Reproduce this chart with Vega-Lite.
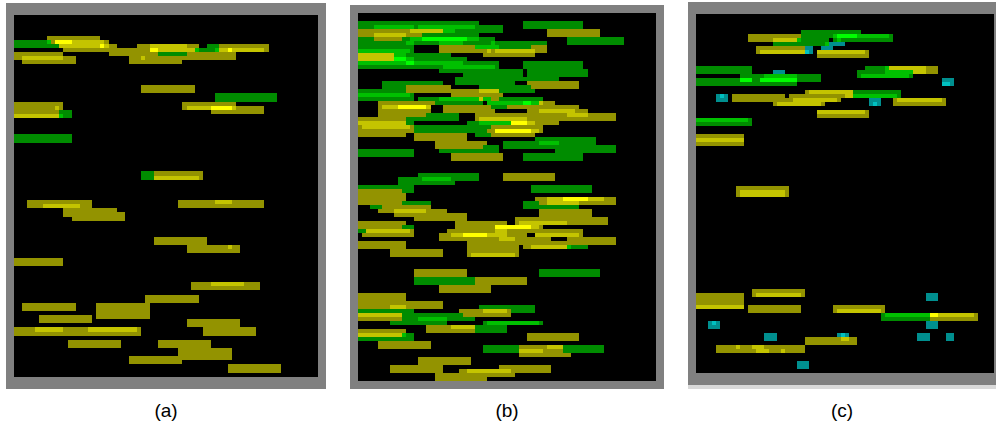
{
"$schema":"https://vega.github.io/schema/vega-lite/v6.json",
"padding":{"left":6,"top":2,"right":0,"bottom":0},
"autosize":{"type":"pad"},
"background":"white",
"spacing":24,
"config":{"view":{"stroke":null},"title":{"font":"Liberation Sans","fontSize":19,"fontWeight":"normal","color":"black"}},
"datasets":{
"a":[
{"x":6,"x2":326,"y":3,"y2":389,"k":"f"},
{"x":14,"x2":318,"y":15,"y2":377,"k":"k"},
{"x":47,"x2":100,"y":36,"y2":40,"k":"o"},
{"x":14,"x2":47,"y":40,"y2":44,"k":"g"},
{"x":47,"x2":51,"y":40,"y2":44,"k":"G"},
{"x":51,"x2":55,"y":40,"y2":44,"k":"o"},
{"x":55,"x2":72,"y":40,"y2":44,"k":"Y"},
{"x":72,"x2":104,"y":40,"y2":44,"k":"y"},
{"x":104,"x2":109,"y":40,"y2":44,"k":"o"},
{"x":14,"x2":59,"y":44,"y2":48,"k":"g"},
{"x":59,"x2":100,"y":44,"y2":48,"k":"y"},
{"x":100,"x2":104,"y":44,"y2":48,"k":"Y"},
{"x":104,"x2":109,"y":44,"y2":48,"k":"y"},
{"x":109,"x2":117,"y":44,"y2":48,"k":"o"},
{"x":137,"x2":199,"y":44,"y2":48,"k":"o"},
{"x":150,"x2":187,"y":44,"y2":48,"k":"y"},
{"x":207,"x2":219,"y":44,"y2":52,"k":"g"},
{"x":219,"x2":269,"y":44,"y2":52,"k":"o"},
{"x":63,"x2":150,"y":48,"y2":52,"k":"o"},
{"x":150,"x2":158,"y":48,"y2":52,"k":"Y"},
{"x":158,"x2":195,"y":48,"y2":52,"k":"y"},
{"x":195,"x2":199,"y":48,"y2":52,"k":"G"},
{"x":199,"x2":215,"y":48,"y2":52,"k":"g"},
{"x":215,"x2":219,"y":48,"y2":52,"k":"G"},
{"x":219,"x2":228,"y":48,"y2":52,"k":"y"},
{"x":228,"x2":232,"y":48,"y2":52,"k":"Y"},
{"x":232,"x2":264,"y":48,"y2":52,"k":"y"},
{"x":14,"x2":63,"y":52,"y2":56,"k":"o"},
{"x":109,"x2":158,"y":52,"y2":56,"k":"o"},
{"x":158,"x2":187,"y":52,"y2":56,"k":"g"},
{"x":187,"x2":236,"y":52,"y2":56,"k":"o"},
{"x":14,"x2":22,"y":56,"y2":60,"k":"o"},
{"x":22,"x2":63,"y":56,"y2":60,"k":"y"},
{"x":63,"x2":76,"y":56,"y2":60,"k":"o"},
{"x":129,"x2":141,"y":56,"y2":60,"k":"o"},
{"x":141,"x2":145,"y":56,"y2":60,"k":"y"},
{"x":145,"x2":236,"y":56,"y2":60,"k":"o"},
{"x":22,"x2":76,"y":60,"y2":64,"k":"o"},
{"x":129,"x2":182,"y":60,"y2":64,"k":"o"},
{"x":141,"x2":195,"y":85,"y2":93,"k":"o"},
{"x":215,"x2":277,"y":93,"y2":102,"k":"g"},
{"x":14,"x2":63,"y":102,"y2":110,"k":"o"},
{"x":55,"x2":59,"y":106,"y2":110,"k":"y"},
{"x":182,"x2":236,"y":102,"y2":110,"k":"o"},
{"x":211,"x2":264,"y":106,"y2":114,"k":"o"},
{"x":187,"x2":211,"y":106,"y2":110,"k":"y"},
{"x":211,"x2":232,"y":106,"y2":110,"k":"Y"},
{"x":232,"x2":236,"y":106,"y2":110,"k":"y"},
{"x":14,"x2":59,"y":110,"y2":114,"k":"o"},
{"x":59,"x2":72,"y":110,"y2":118,"k":"g"},
{"x":14,"x2":59,"y":114,"y2":118,"k":"y"},
{"x":59,"x2":63,"y":114,"y2":118,"k":"G"},
{"x":14,"x2":72,"y":134,"y2":143,"k":"g"},
{"x":141,"x2":154,"y":171,"y2":180,"k":"g"},
{"x":154,"x2":203,"y":171,"y2":180,"k":"o"},
{"x":154,"x2":199,"y":176,"y2":180,"k":"y"},
{"x":27,"x2":92,"y":200,"y2":208,"k":"o"},
{"x":43,"x2":80,"y":204,"y2":208,"k":"y"},
{"x":178,"x2":264,"y":200,"y2":208,"k":"o"},
{"x":215,"x2":232,"y":200,"y2":204,"k":"y"},
{"x":63,"x2":117,"y":208,"y2":217,"k":"o"},
{"x":72,"x2":125,"y":212,"y2":221,"k":"o"},
{"x":154,"x2":207,"y":237,"y2":245,"k":"o"},
{"x":187,"x2":240,"y":245,"y2":253,"k":"o"},
{"x":228,"x2":232,"y":245,"y2":249,"k":"y"},
{"x":14,"x2":63,"y":258,"y2":266,"k":"o"},
{"x":191,"x2":260,"y":282,"y2":290,"k":"o"},
{"x":211,"x2":244,"y":282,"y2":286,"k":"y"},
{"x":145,"x2":199,"y":295,"y2":303,"k":"o"},
{"x":22,"x2":76,"y":303,"y2":311,"k":"o"},
{"x":96,"x2":150,"y":303,"y2":319,"k":"o"},
{"x":39,"x2":92,"y":315,"y2":323,"k":"o"},
{"x":187,"x2":240,"y":319,"y2":327,"k":"o"},
{"x":14,"x2":141,"y":327,"y2":336,"k":"o"},
{"x":35,"x2":63,"y":327,"y2":332,"k":"y"},
{"x":88,"x2":137,"y":327,"y2":332,"k":"y"},
{"x":203,"x2":256,"y":327,"y2":336,"k":"o"},
{"x":68,"x2":121,"y":340,"y2":348,"k":"o"},
{"x":158,"x2":211,"y":340,"y2":348,"k":"o"},
{"x":178,"x2":232,"y":348,"y2":360,"k":"o"},
{"x":129,"x2":182,"y":356,"y2":364,"k":"o"},
{"x":228,"x2":281,"y":364,"y2":373,"k":"o"}
],
"b":[
{"x":350,"x2":664,"y":5,"y2":389,"k":"f"},
{"x":358,"x2":656,"y":13,"y2":381,"k":"k"},
{"x":358,"x2":479,"y":21,"y2":25,"k":"g"},
{"x":358,"x2":503,"y":25,"y2":29,"k":"g"},
{"x":374,"x2":414,"y":25,"y2":29,"k":"G"},
{"x":418,"x2":475,"y":25,"y2":29,"k":"G"},
{"x":523,"x2":583,"y":21,"y2":29,"k":"g"},
{"x":358,"x2":410,"y":29,"y2":33,"k":"o"},
{"x":410,"x2":443,"y":29,"y2":33,"k":"y"},
{"x":443,"x2":455,"y":29,"y2":33,"k":"G"},
{"x":455,"x2":503,"y":29,"y2":33,"k":"g"},
{"x":547,"x2":600,"y":29,"y2":37,"k":"o"},
{"x":358,"x2":374,"y":33,"y2":37,"k":"o"},
{"x":374,"x2":406,"y":33,"y2":37,"k":"y"},
{"x":406,"x2":422,"y":33,"y2":37,"k":"o"},
{"x":422,"x2":479,"y":33,"y2":37,"k":"g"},
{"x":358,"x2":374,"y":37,"y2":41,"k":"g"},
{"x":374,"x2":402,"y":37,"y2":41,"k":"o"},
{"x":402,"x2":410,"y":37,"y2":41,"k":"g"},
{"x":410,"x2":422,"y":37,"y2":41,"k":"G"},
{"x":422,"x2":467,"y":37,"y2":41,"k":"B"},
{"x":467,"x2":479,"y":37,"y2":41,"k":"G"},
{"x":479,"x2":495,"y":37,"y2":41,"k":"g"},
{"x":567,"x2":624,"y":37,"y2":45,"k":"g"},
{"x":358,"x2":406,"y":41,"y2":45,"k":"g"},
{"x":406,"x2":414,"y":41,"y2":45,"k":"G"},
{"x":414,"x2":439,"y":41,"y2":45,"k":"g"},
{"x":439,"x2":463,"y":41,"y2":45,"k":"G"},
{"x":463,"x2":491,"y":41,"y2":45,"k":"g"},
{"x":491,"x2":495,"y":41,"y2":45,"k":"G"},
{"x":495,"x2":547,"y":41,"y2":45,"k":"g"},
{"x":358,"x2":414,"y":45,"y2":49,"k":"g"},
{"x":439,"x2":475,"y":45,"y2":49,"k":"o"},
{"x":475,"x2":499,"y":45,"y2":49,"k":"G"},
{"x":499,"x2":531,"y":45,"y2":49,"k":"g"},
{"x":531,"x2":547,"y":45,"y2":49,"k":"o"},
{"x":358,"x2":410,"y":49,"y2":53,"k":"G"},
{"x":410,"x2":414,"y":49,"y2":53,"k":"g"},
{"x":439,"x2":487,"y":49,"y2":53,"k":"o"},
{"x":487,"x2":491,"y":49,"y2":53,"k":"y"},
{"x":491,"x2":495,"y":49,"y2":53,"k":"o"},
{"x":495,"x2":535,"y":49,"y2":53,"k":"y"},
{"x":535,"x2":547,"y":49,"y2":53,"k":"o"},
{"x":358,"x2":394,"y":53,"y2":57,"k":"y"},
{"x":394,"x2":406,"y":53,"y2":57,"k":"G"},
{"x":406,"x2":451,"y":53,"y2":57,"k":"g"},
{"x":483,"x2":535,"y":53,"y2":57,"k":"o"},
{"x":358,"x2":394,"y":57,"y2":61,"k":"y"},
{"x":394,"x2":406,"y":57,"y2":61,"k":"B"},
{"x":406,"x2":414,"y":57,"y2":61,"k":"G"},
{"x":414,"x2":467,"y":57,"y2":61,"k":"g"},
{"x":358,"x2":406,"y":61,"y2":65,"k":"G"},
{"x":406,"x2":414,"y":61,"y2":65,"k":"B"},
{"x":414,"x2":463,"y":61,"y2":65,"k":"G"},
{"x":463,"x2":499,"y":61,"y2":65,"k":"g"},
{"x":523,"x2":583,"y":61,"y2":69,"k":"g"},
{"x":358,"x2":443,"y":65,"y2":69,"k":"g"},
{"x":443,"x2":495,"y":65,"y2":69,"k":"G"},
{"x":495,"x2":499,"y":65,"y2":69,"k":"g"},
{"x":439,"x2":523,"y":69,"y2":73,"k":"g"},
{"x":527,"x2":588,"y":69,"y2":77,"k":"g"},
{"x":463,"x2":523,"y":73,"y2":77,"k":"g"},
{"x":455,"x2":559,"y":77,"y2":81,"k":"g"},
{"x":382,"x2":443,"y":81,"y2":85,"k":"g"},
{"x":455,"x2":515,"y":81,"y2":85,"k":"g"},
{"x":527,"x2":579,"y":81,"y2":89,"k":"o"},
{"x":382,"x2":406,"y":85,"y2":89,"k":"g"},
{"x":406,"x2":451,"y":85,"y2":89,"k":"o"},
{"x":479,"x2":531,"y":85,"y2":89,"k":"g"},
{"x":358,"x2":406,"y":89,"y2":93,"k":"g"},
{"x":406,"x2":479,"y":89,"y2":93,"k":"o"},
{"x":479,"x2":499,"y":89,"y2":93,"k":"y"},
{"x":499,"x2":535,"y":89,"y2":93,"k":"g"},
{"x":358,"x2":410,"y":93,"y2":97,"k":"G"},
{"x":410,"x2":414,"y":93,"y2":97,"k":"g"},
{"x":451,"x2":503,"y":93,"y2":97,"k":"o"},
{"x":358,"x2":414,"y":97,"y2":101,"k":"g"},
{"x":418,"x2":439,"y":97,"y2":101,"k":"g"},
{"x":439,"x2":479,"y":97,"y2":101,"k":"G"},
{"x":479,"x2":483,"y":97,"y2":101,"k":"y"},
{"x":483,"x2":491,"y":97,"y2":101,"k":"G"},
{"x":491,"x2":499,"y":97,"y2":101,"k":"o"},
{"x":499,"x2":543,"y":97,"y2":101,"k":"g"},
{"x":378,"x2":435,"y":101,"y2":105,"k":"o"},
{"x":435,"x2":483,"y":101,"y2":105,"k":"g"},
{"x":487,"x2":523,"y":101,"y2":105,"k":"G"},
{"x":523,"x2":531,"y":101,"y2":105,"k":"B"},
{"x":531,"x2":539,"y":101,"y2":105,"k":"G"},
{"x":539,"x2":543,"y":101,"y2":105,"k":"y"},
{"x":543,"x2":555,"y":101,"y2":105,"k":"o"},
{"x":378,"x2":382,"y":105,"y2":109,"k":"o"},
{"x":382,"x2":398,"y":105,"y2":109,"k":"y"},
{"x":398,"x2":426,"y":105,"y2":109,"k":"Y"},
{"x":426,"x2":431,"y":105,"y2":109,"k":"y"},
{"x":443,"x2":579,"y":105,"y2":109,"k":"o"},
{"x":491,"x2":507,"y":105,"y2":109,"k":"g"},
{"x":378,"x2":431,"y":109,"y2":113,"k":"o"},
{"x":443,"x2":495,"y":109,"y2":113,"k":"o"},
{"x":527,"x2":539,"y":109,"y2":113,"k":"o"},
{"x":539,"x2":575,"y":109,"y2":113,"k":"y"},
{"x":575,"x2":588,"y":109,"y2":113,"k":"o"},
{"x":378,"x2":426,"y":113,"y2":117,"k":"o"},
{"x":426,"x2":459,"y":113,"y2":117,"k":"g"},
{"x":475,"x2":567,"y":113,"y2":117,"k":"o"},
{"x":567,"x2":588,"y":113,"y2":117,"k":"y"},
{"x":588,"x2":616,"y":113,"y2":121,"k":"o"},
{"x":358,"x2":406,"y":117,"y2":121,"k":"o"},
{"x":406,"x2":459,"y":117,"y2":121,"k":"g"},
{"x":475,"x2":479,"y":117,"y2":121,"k":"o"},
{"x":479,"x2":527,"y":117,"y2":121,"k":"y"},
{"x":527,"x2":588,"y":117,"y2":121,"k":"o"},
{"x":358,"x2":406,"y":121,"y2":125,"k":"y"},
{"x":406,"x2":414,"y":121,"y2":125,"k":"g"},
{"x":467,"x2":479,"y":121,"y2":125,"k":"g"},
{"x":479,"x2":511,"y":121,"y2":125,"k":"G"},
{"x":511,"x2":527,"y":121,"y2":125,"k":"Y"},
{"x":527,"x2":535,"y":121,"y2":125,"k":"y"},
{"x":535,"x2":559,"y":121,"y2":125,"k":"o"},
{"x":358,"x2":362,"y":125,"y2":129,"k":"o"},
{"x":362,"x2":410,"y":125,"y2":129,"k":"y"},
{"x":410,"x2":414,"y":125,"y2":129,"k":"o"},
{"x":414,"x2":491,"y":125,"y2":129,"k":"g"},
{"x":491,"x2":543,"y":125,"y2":129,"k":"o"},
{"x":358,"x2":414,"y":129,"y2":133,"k":"o"},
{"x":414,"x2":487,"y":129,"y2":133,"k":"g"},
{"x":487,"x2":495,"y":129,"y2":133,"k":"o"},
{"x":495,"x2":531,"y":129,"y2":133,"k":"Y"},
{"x":531,"x2":539,"y":129,"y2":133,"k":"y"},
{"x":539,"x2":543,"y":129,"y2":133,"k":"o"},
{"x":358,"x2":406,"y":133,"y2":137,"k":"o"},
{"x":414,"x2":467,"y":133,"y2":141,"k":"o"},
{"x":475,"x2":491,"y":133,"y2":137,"k":"g"},
{"x":491,"x2":535,"y":133,"y2":137,"k":"o"},
{"x":535,"x2":596,"y":137,"y2":145,"k":"g"},
{"x":435,"x2":487,"y":141,"y2":145,"k":"o"},
{"x":503,"x2":539,"y":141,"y2":145,"k":"g"},
{"x":539,"x2":559,"y":141,"y2":145,"k":"G"},
{"x":435,"x2":483,"y":145,"y2":149,"k":"o"},
{"x":483,"x2":499,"y":145,"y2":149,"k":"g"},
{"x":503,"x2":555,"y":145,"y2":149,"k":"g"},
{"x":555,"x2":616,"y":145,"y2":153,"k":"g"},
{"x":358,"x2":414,"y":149,"y2":157,"k":"g"},
{"x":439,"x2":499,"y":149,"y2":153,"k":"g"},
{"x":451,"x2":503,"y":153,"y2":161,"k":"o"},
{"x":523,"x2":583,"y":153,"y2":161,"k":"g"},
{"x":418,"x2":479,"y":173,"y2":177,"k":"g"},
{"x":503,"x2":555,"y":173,"y2":181,"k":"o"},
{"x":398,"x2":422,"y":177,"y2":181,"k":"g"},
{"x":422,"x2":451,"y":177,"y2":181,"k":"G"},
{"x":451,"x2":479,"y":177,"y2":181,"k":"g"},
{"x":398,"x2":455,"y":181,"y2":185,"k":"g"},
{"x":358,"x2":414,"y":185,"y2":189,"k":"g"},
{"x":531,"x2":592,"y":185,"y2":193,"k":"g"},
{"x":358,"x2":402,"y":189,"y2":193,"k":"o"},
{"x":402,"x2":414,"y":189,"y2":193,"k":"g"},
{"x":358,"x2":406,"y":193,"y2":201,"k":"o"},
{"x":535,"x2":616,"y":197,"y2":205,"k":"o"},
{"x":547,"x2":579,"y":197,"y2":205,"k":"y"},
{"x":563,"x2":588,"y":197,"y2":201,"k":"Y"},
{"x":588,"x2":604,"y":197,"y2":201,"k":"y"},
{"x":358,"x2":402,"y":201,"y2":205,"k":"o"},
{"x":402,"x2":431,"y":201,"y2":205,"k":"g"},
{"x":523,"x2":539,"y":201,"y2":209,"k":"g"},
{"x":539,"x2":579,"y":205,"y2":209,"k":"g"},
{"x":370,"x2":382,"y":205,"y2":209,"k":"g"},
{"x":382,"x2":431,"y":205,"y2":209,"k":"o"},
{"x":378,"x2":394,"y":209,"y2":213,"k":"o"},
{"x":394,"x2":426,"y":209,"y2":213,"k":"y"},
{"x":426,"x2":447,"y":209,"y2":213,"k":"o"},
{"x":539,"x2":592,"y":209,"y2":217,"k":"o"},
{"x":394,"x2":467,"y":213,"y2":217,"k":"o"},
{"x":414,"x2":467,"y":217,"y2":221,"k":"o"},
{"x":515,"x2":608,"y":217,"y2":225,"k":"o"},
{"x":358,"x2":406,"y":221,"y2":225,"k":"o"},
{"x":455,"x2":507,"y":221,"y2":225,"k":"o"},
{"x":519,"x2":567,"y":221,"y2":225,"k":"y"},
{"x":358,"x2":402,"y":225,"y2":229,"k":"o"},
{"x":402,"x2":414,"y":225,"y2":229,"k":"g"},
{"x":455,"x2":495,"y":225,"y2":229,"k":"o"},
{"x":495,"x2":531,"y":225,"y2":229,"k":"Y"},
{"x":531,"x2":539,"y":225,"y2":229,"k":"y"},
{"x":539,"x2":543,"y":225,"y2":229,"k":"o"},
{"x":358,"x2":366,"y":229,"y2":233,"k":"g"},
{"x":366,"x2":410,"y":229,"y2":233,"k":"y"},
{"x":410,"x2":414,"y":229,"y2":233,"k":"o"},
{"x":447,"x2":495,"y":229,"y2":233,"k":"o"},
{"x":495,"x2":507,"y":229,"y2":233,"k":"y"},
{"x":507,"x2":583,"y":229,"y2":233,"k":"o"},
{"x":362,"x2":414,"y":233,"y2":237,"k":"o"},
{"x":439,"x2":451,"y":233,"y2":237,"k":"o"},
{"x":451,"x2":463,"y":233,"y2":237,"k":"y"},
{"x":463,"x2":487,"y":233,"y2":237,"k":"Y"},
{"x":487,"x2":507,"y":233,"y2":237,"k":"y"},
{"x":507,"x2":527,"y":233,"y2":237,"k":"o"},
{"x":535,"x2":579,"y":233,"y2":237,"k":"y"},
{"x":579,"x2":583,"y":233,"y2":237,"k":"o"},
{"x":439,"x2":499,"y":237,"y2":241,"k":"o"},
{"x":499,"x2":515,"y":237,"y2":241,"k":"y"},
{"x":515,"x2":551,"y":237,"y2":241,"k":"o"},
{"x":567,"x2":616,"y":237,"y2":245,"k":"o"},
{"x":358,"x2":406,"y":241,"y2":249,"k":"o"},
{"x":467,"x2":519,"y":241,"y2":257,"k":"o"},
{"x":519,"x2":616,"y":241,"y2":245,"k":"o"},
{"x":523,"x2":531,"y":245,"y2":249,"k":"o"},
{"x":531,"x2":567,"y":245,"y2":249,"k":"y"},
{"x":567,"x2":571,"y":245,"y2":249,"k":"G"},
{"x":571,"x2":588,"y":245,"y2":249,"k":"g"},
{"x":390,"x2":443,"y":249,"y2":257,"k":"o"},
{"x":471,"x2":515,"y":253,"y2":257,"k":"y"},
{"x":414,"x2":467,"y":269,"y2":277,"k":"o"},
{"x":539,"x2":600,"y":269,"y2":277,"k":"g"},
{"x":414,"x2":475,"y":277,"y2":285,"k":"g"},
{"x":475,"x2":527,"y":277,"y2":285,"k":"o"},
{"x":439,"x2":491,"y":285,"y2":293,"k":"o"},
{"x":358,"x2":406,"y":293,"y2":301,"k":"o"},
{"x":358,"x2":443,"y":301,"y2":309,"k":"o"},
{"x":390,"x2":406,"y":305,"y2":309,"k":"y"},
{"x":479,"x2":535,"y":305,"y2":313,"k":"g"},
{"x":459,"x2":511,"y":309,"y2":317,"k":"o"},
{"x":483,"x2":507,"y":309,"y2":313,"k":"y"},
{"x":358,"x2":414,"y":309,"y2":313,"k":"g"},
{"x":358,"x2":402,"y":313,"y2":317,"k":"y"},
{"x":402,"x2":463,"y":313,"y2":317,"k":"g"},
{"x":358,"x2":402,"y":317,"y2":321,"k":"o"},
{"x":402,"x2":418,"y":317,"y2":321,"k":"g"},
{"x":418,"x2":447,"y":317,"y2":321,"k":"G"},
{"x":447,"x2":475,"y":317,"y2":321,"k":"g"},
{"x":390,"x2":447,"y":321,"y2":325,"k":"g"},
{"x":483,"x2":487,"y":321,"y2":325,"k":"g"},
{"x":487,"x2":539,"y":321,"y2":325,"k":"G"},
{"x":539,"x2":543,"y":321,"y2":325,"k":"g"},
{"x":426,"x2":475,"y":325,"y2":333,"k":"o"},
{"x":451,"x2":475,"y":325,"y2":329,"k":"y"},
{"x":475,"x2":507,"y":325,"y2":333,"k":"g"},
{"x":358,"x2":406,"y":329,"y2":333,"k":"o"},
{"x":358,"x2":402,"y":333,"y2":337,"k":"y"},
{"x":402,"x2":406,"y":333,"y2":337,"k":"G"},
{"x":406,"x2":414,"y":333,"y2":337,"k":"g"},
{"x":527,"x2":579,"y":333,"y2":341,"k":"o"},
{"x":358,"x2":414,"y":337,"y2":341,"k":"g"},
{"x":378,"x2":431,"y":341,"y2":349,"k":"o"},
{"x":483,"x2":519,"y":345,"y2":353,"k":"g"},
{"x":519,"x2":563,"y":345,"y2":349,"k":"o"},
{"x":547,"x2":563,"y":345,"y2":349,"k":"y"},
{"x":519,"x2":543,"y":349,"y2":353,"k":"y"},
{"x":543,"x2":563,"y":349,"y2":353,"k":"o"},
{"x":563,"x2":604,"y":345,"y2":353,"k":"g"},
{"x":519,"x2":571,"y":353,"y2":357,"k":"o"},
{"x":418,"x2":471,"y":357,"y2":365,"k":"o"},
{"x":390,"x2":443,"y":365,"y2":373,"k":"o"},
{"x":499,"x2":551,"y":365,"y2":373,"k":"o"},
{"x":459,"x2":515,"y":369,"y2":377,"k":"o"},
{"x":467,"x2":511,"y":369,"y2":373,"k":"y"},
{"x":463,"x2":483,"y":373,"y2":377,"k":"y"},
{"x":435,"x2":487,"y":373,"y2":381,"k":"o"}
],
"c":[
{"x":688,"x2":996,"y":2,"y2":385,"k":"f"},
{"x":688,"x2":996,"y":385,"y2":389,"k":"L"},
{"x":696,"x2":994,"y":14,"y2":373,"k":"k"},
{"x":801,"x2":861,"y":30,"y2":34,"k":"g"},
{"x":748,"x2":801,"y":34,"y2":42,"k":"o"},
{"x":801,"x2":833,"y":34,"y2":38,"k":"g"},
{"x":833,"x2":837,"y":34,"y2":38,"k":"G"},
{"x":837,"x2":857,"y":34,"y2":38,"k":"B"},
{"x":857,"x2":889,"y":34,"y2":38,"k":"G"},
{"x":889,"x2":893,"y":34,"y2":38,"k":"g"},
{"x":773,"x2":797,"y":38,"y2":42,"k":"y"},
{"x":797,"x2":801,"y":38,"y2":42,"k":"G"},
{"x":801,"x2":829,"y":38,"y2":42,"k":"g"},
{"x":833,"x2":837,"y":38,"y2":42,"k":"g"},
{"x":837,"x2":841,"y":38,"y2":42,"k":"G"},
{"x":841,"x2":893,"y":38,"y2":42,"k":"g"},
{"x":773,"x2":825,"y":42,"y2":46,"k":"g"},
{"x":825,"x2":829,"y":42,"y2":46,"k":"G"},
{"x":829,"x2":845,"y":42,"y2":46,"k":"c"},
{"x":756,"x2":805,"y":46,"y2":54,"k":"o"},
{"x":805,"x2":813,"y":46,"y2":54,"k":"c"},
{"x":821,"x2":833,"y":46,"y2":50,"k":"c"},
{"x":760,"x2":805,"y":50,"y2":54,"k":"y"},
{"x":805,"x2":809,"y":50,"y2":54,"k":"C"},
{"x":817,"x2":865,"y":50,"y2":54,"k":"y"},
{"x":865,"x2":869,"y":50,"y2":54,"k":"o"},
{"x":817,"x2":869,"y":54,"y2":58,"k":"o"},
{"x":696,"x2":752,"y":66,"y2":74,"k":"g"},
{"x":865,"x2":885,"y":66,"y2":70,"k":"g"},
{"x":885,"x2":889,"y":66,"y2":70,"k":"G"},
{"x":889,"x2":926,"y":66,"y2":70,"k":"y"},
{"x":926,"x2":938,"y":66,"y2":74,"k":"o"},
{"x":773,"x2":785,"y":70,"y2":74,"k":"c"},
{"x":857,"x2":885,"y":70,"y2":74,"k":"g"},
{"x":885,"x2":913,"y":70,"y2":74,"k":"G"},
{"x":913,"x2":926,"y":70,"y2":74,"k":"y"},
{"x":740,"x2":764,"y":74,"y2":78,"k":"g"},
{"x":764,"x2":797,"y":74,"y2":78,"k":"G"},
{"x":797,"x2":821,"y":74,"y2":82,"k":"g"},
{"x":857,"x2":861,"y":74,"y2":78,"k":"g"},
{"x":861,"x2":909,"y":74,"y2":78,"k":"G"},
{"x":909,"x2":913,"y":74,"y2":78,"k":"g"},
{"x":696,"x2":740,"y":78,"y2":82,"k":"g"},
{"x":740,"x2":752,"y":78,"y2":82,"k":"B"},
{"x":752,"x2":760,"y":78,"y2":82,"k":"g"},
{"x":760,"x2":797,"y":78,"y2":82,"k":"B"},
{"x":942,"x2":954,"y":78,"y2":86,"k":"c"},
{"x":942,"x2":950,"y":82,"y2":86,"k":"C"},
{"x":696,"x2":797,"y":82,"y2":86,"k":"g"},
{"x":805,"x2":809,"y":90,"y2":94,"k":"o"},
{"x":809,"x2":853,"y":90,"y2":94,"k":"y"},
{"x":853,"x2":901,"y":90,"y2":94,"k":"g"},
{"x":716,"x2":728,"y":94,"y2":102,"k":"c"},
{"x":720,"x2":724,"y":94,"y2":98,"k":"C"},
{"x":732,"x2":785,"y":94,"y2":102,"k":"o"},
{"x":789,"x2":845,"y":94,"y2":98,"k":"o"},
{"x":845,"x2":853,"y":94,"y2":98,"k":"y"},
{"x":853,"x2":897,"y":94,"y2":98,"k":"G"},
{"x":897,"x2":901,"y":94,"y2":98,"k":"g"},
{"x":785,"x2":793,"y":98,"y2":102,"k":"o"},
{"x":793,"x2":837,"y":98,"y2":102,"k":"y"},
{"x":837,"x2":841,"y":98,"y2":102,"k":"o"},
{"x":869,"x2":881,"y":98,"y2":106,"k":"c"},
{"x":873,"x2":877,"y":102,"y2":106,"k":"C"},
{"x":893,"x2":946,"y":98,"y2":106,"k":"o"},
{"x":897,"x2":942,"y":98,"y2":102,"k":"y"},
{"x":773,"x2":825,"y":102,"y2":106,"k":"o"},
{"x":777,"x2":821,"y":102,"y2":106,"k":"y"},
{"x":817,"x2":865,"y":110,"y2":114,"k":"y"},
{"x":865,"x2":869,"y":110,"y2":114,"k":"o"},
{"x":817,"x2":869,"y":114,"y2":118,"k":"o"},
{"x":696,"x2":748,"y":118,"y2":122,"k":"G"},
{"x":748,"x2":752,"y":118,"y2":122,"k":"g"},
{"x":696,"x2":752,"y":122,"y2":126,"k":"g"},
{"x":696,"x2":744,"y":134,"y2":146,"k":"o"},
{"x":696,"x2":744,"y":138,"y2":142,"k":"y"},
{"x":736,"x2":789,"y":186,"y2":197,"k":"o"},
{"x":740,"x2":785,"y":190,"y2":197,"k":"y"},
{"x":752,"x2":805,"y":289,"y2":297,"k":"o"},
{"x":756,"x2":801,"y":293,"y2":297,"k":"y"},
{"x":696,"x2":744,"y":293,"y2":305,"k":"o"},
{"x":696,"x2":744,"y":305,"y2":309,"k":"y"},
{"x":926,"x2":938,"y":293,"y2":301,"k":"c"},
{"x":748,"x2":801,"y":305,"y2":313,"k":"o"},
{"x":833,"x2":885,"y":305,"y2":313,"k":"o"},
{"x":837,"x2":881,"y":309,"y2":313,"k":"y"},
{"x":881,"x2":930,"y":313,"y2":321,"k":"g"},
{"x":885,"x2":930,"y":313,"y2":317,"k":"G"},
{"x":930,"x2":978,"y":313,"y2":321,"k":"o"},
{"x":930,"x2":938,"y":313,"y2":317,"k":"Y"},
{"x":938,"x2":974,"y":313,"y2":317,"k":"y"},
{"x":708,"x2":720,"y":321,"y2":329,"k":"c"},
{"x":712,"x2":716,"y":321,"y2":325,"k":"C"},
{"x":926,"x2":938,"y":321,"y2":329,"k":"c"},
{"x":764,"x2":777,"y":333,"y2":341,"k":"c"},
{"x":837,"x2":849,"y":333,"y2":337,"k":"c"},
{"x":841,"x2":845,"y":333,"y2":337,"k":"C"},
{"x":917,"x2":930,"y":333,"y2":341,"k":"c"},
{"x":946,"x2":954,"y":333,"y2":341,"k":"c"},
{"x":805,"x2":857,"y":337,"y2":345,"k":"o"},
{"x":841,"x2":849,"y":337,"y2":341,"k":"y"},
{"x":716,"x2":805,"y":345,"y2":353,"k":"o"},
{"x":736,"x2":740,"y":345,"y2":349,"k":"y"},
{"x":752,"x2":764,"y":345,"y2":349,"k":"y"},
{"x":756,"x2":769,"y":349,"y2":353,"k":"y"},
{"x":781,"x2":785,"y":349,"y2":353,"k":"y"},
{"x":797,"x2":809,"y":361,"y2":369,"k":"c"}
]
},
"hconcat":[
{"width":320,"height":387,"data":{"name":"a"},
 "title":{"text":"(a)","orient":"bottom","offset":13},
 "mark":{"type":"rect","strokeWidth":0},
 "encoding":{
  "x":{"field":"x","type":"quantitative","scale":{"domain":[6,326],"nice":false,"zero":false},"axis":null},
  "x2":{"field":"x2"},
  "y":{"field":"y","type":"quantitative","scale":{"domain":[2,389],"nice":false,"zero":false,"reverse":true},"axis":null},
  "y2":{"field":"y2"},
  "color":{"field":"k","type":"nominal","legend":null,"scale":{"domain":["f","L","k","o","y","Y","g","G","B","c","C"],"range":["#808080","#d9d9d9","#000000","#939300","#c4c400","#ffff00","#008c00","#00c000","#00ff00","#008f8f","#00c0c0"]}}
 }},
{"width":314,"height":387,"data":{"name":"b"},
 "title":{"text":"(b)","orient":"bottom","offset":13},
 "mark":{"type":"rect","strokeWidth":0},
 "encoding":{
  "x":{"field":"x","type":"quantitative","scale":{"domain":[350,664],"nice":false,"zero":false},"axis":null},
  "x2":{"field":"x2"},
  "y":{"field":"y","type":"quantitative","scale":{"domain":[2,389],"nice":false,"zero":false,"reverse":true},"axis":null},
  "y2":{"field":"y2"},
  "color":{"field":"k","type":"nominal","legend":null,"scale":{"domain":["f","L","k","o","y","Y","g","G","B","c","C"],"range":["#808080","#d9d9d9","#000000","#939300","#c4c400","#ffff00","#008c00","#00c000","#00ff00","#008f8f","#00c0c0"]}}
 }},
{"width":308,"height":387,"data":{"name":"c"},
 "title":{"text":"(c)","orient":"bottom","offset":13},
 "mark":{"type":"rect","strokeWidth":0},
 "encoding":{
  "x":{"field":"x","type":"quantitative","scale":{"domain":[688,996],"nice":false,"zero":false},"axis":null},
  "x2":{"field":"x2"},
  "y":{"field":"y","type":"quantitative","scale":{"domain":[2,389],"nice":false,"zero":false,"reverse":true},"axis":null},
  "y2":{"field":"y2"},
  "color":{"field":"k","type":"nominal","legend":null,"scale":{"domain":["f","L","k","o","y","Y","g","G","B","c","C"],"range":["#808080","#d9d9d9","#000000","#939300","#c4c400","#ffff00","#008c00","#00c000","#00ff00","#008f8f","#00c0c0"]}}
 }}
]
}
